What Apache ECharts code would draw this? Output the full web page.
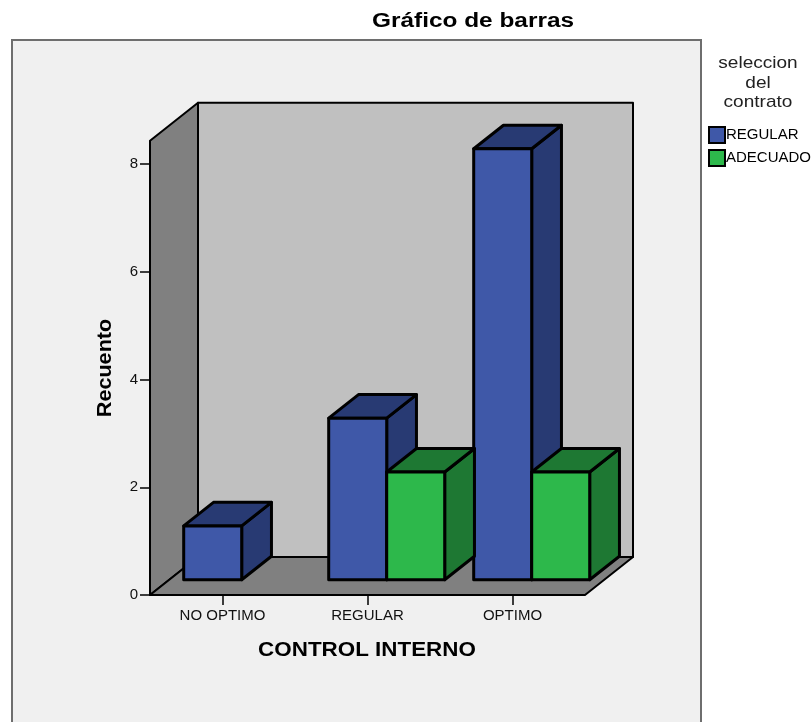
<!DOCTYPE html>
<html>
<head>
<meta charset="utf-8">
<script src="https://cdn.jsdelivr.net/npm/echarts@6/dist/echarts.min.js"></script>
<style>
  html, body { margin: 0; padding: 0; background: #fff; }
  #main { width: 811px; height: 722px; }
</style>
</head>
<body>
<div id="main"></div>
<script>
// datos del grafico
var categories = ['NO OPTIMO', 'REGULAR', 'OPTIMO'];
var regularData = [1, 3, 8];
var adecuadoData = [0, 2, 2];
var seriesNames = ['REGULAR', 'ADECUADO'];
var yTicks = [0, 2, 4, 6, 8];

// colores: cara frontal / caras laterales
var blueFront = '#3f58a8', blueSide = '#283a73';
var greenFront = '#2db84b', greenSide = '#1e7833';

// desplazamiento de profundidad de la caja 3D (px)
var DEPTH = [48, -38];
var WALL_TOP = 8.43;
var font = 'Arial, "Liberation Sans", sans-serif';

function renderWalls(params, api) {
  var cs = params.coordSys;
  var x0 = cs.x, x1 = cs.x + cs.width;
  var yb = api.coord([0, 0])[1];
  var yt = api.coord([0, WALL_TOP])[1];
  var dx = DEPTH[0], dy = DEPTH[1];
  var line = { stroke: '#000', lineWidth: 2, lineJoin: 'round' };
  return {
    type: 'group',
    children: [
      { type: 'polygon', shape: { points: [[x0 + dx, yb + dy], [x1 + dx, yb + dy], [x1 + dx, yt + dy], [x0 + dx, yt + dy]] },
        style: Object.assign({ fill: '#c0c0c0' }, line) },
      { type: 'polygon', shape: { points: [[x0, yb], [x0 + dx, yb + dy], [x0 + dx, yt + dy], [x0, yt]] },
        style: Object.assign({ fill: '#808080' }, line) },
      { type: 'polygon', shape: { points: [[x0, yb], [x1, yb], [x1 + dx, yb + dy], [x0 + dx, yb + dy]] },
        style: Object.assign({ fill: '#808080' }, line) }
    ]
  };
}

// caja 3D: slot 0 = izquierda, slot 1 = derecha dentro de la categoria
function makeBox(slot, front, side) {
  return function (params, api) {
    var cat = api.value(0), val = api.value(1);
    if (!val) return;
    var base = api.coord([cat, 0]);
    var bw = api.size([1, 0])[0];
    var w = bw * 0.4;
    var fx = DEPTH[0] * 0.4, fy = DEPTH[1] * 0.4;
    var dx = DEPTH[0] * 0.62, dy = DEPTH[1] * 0.62;
    var l = base[0] - w + slot * w + fx, r = l + w;
    var b = base[1] + fy;
    var t = api.coord([cat, val])[1] + fy;
    var st = { stroke: '#000', lineWidth: 3, lineJoin: 'round' };
    return {
      type: 'group',
      children: [
        { type: 'polygon', shape: { points: [[r, b], [r + dx, b + dy], [r + dx, t + dy], [r, t]] },
          style: Object.assign({ fill: side }, st) },
        { type: 'polygon', shape: { points: [[l, t], [r, t], [r + dx, t + dy], [l + dx, t + dy]] },
          style: Object.assign({ fill: side }, st) },
        { type: 'polygon', shape: { points: [[l, b], [r, b], [r, t], [l, t]] },
          style: Object.assign({ fill: front }, st) }
      ]
    };
  };
}

function toRows(arr) {
  var rows = [];
  for (var i = 0; i < arr.length; i++) rows.push([i, arr[i]]);
  return rows;
}

var chart = echarts.init(document.getElementById('main'));
chart.setOption({
  animation: false,
  backgroundColor: '#fff',
  textStyle: { fontFamily: font },
  graphic: [
    { type: 'rect', z: -10, shape: { x: 12, y: 40, width: 689, height: 700 },
      style: { fill: '#f0f0f0', stroke: '#6e6e6e', lineWidth: 2 } },
    { type: 'text', x: 473, y: 21, scaleX: 1.22, style: { text: 'Gráfico de barras', fill: '#000', font: 'bold 20px ' + font,
      textAlign: 'center', textVerticalAlign: 'middle' } },
    { type: 'text', x: 758, y: 83, scaleX: 1.12, style: { text: 'seleccion\ndel\ncontrato', fill: '#222', font: '17px ' + font,
      lineHeight: 19.5, textAlign: 'center', textVerticalAlign: 'middle' } },
    { type: 'text', x: 105, y: 368, rotation: Math.PI / 2, scaleX: 1.08, style: { text: 'Recuento', fill: '#000', font: 'bold 20px ' + font,
      textAlign: 'center', textVerticalAlign: 'middle' } },
    { type: 'text', x: 367, y: 650, scaleX: 1.12, style: { text: 'CONTROL INTERNO', fill: '#000', font: 'bold 20px ' + font,
      textAlign: 'center', textVerticalAlign: 'middle' } }
  ],
  legend: {
    data: seriesNames,
    orient: 'vertical',
    left: 703,
    top: 121,
    icon: 'rect',
    itemWidth: 16,
    itemHeight: 16,
    itemGap: 5,
    itemStyle: { borderColor: '#000', borderWidth: 2 },
    textStyle: { fontSize: 15, color: '#000', padding: [0, 0, 0, -4] }
  },
  grid: { left: 150, right: 226, top: 164, bottom: 127 },
  xAxis: {
    type: 'category',
    data: categories,
    axisLine: { show: false },
    axisTick: { show: true, alignWithLabel: true, length: 10, lineStyle: { color: '#000', width: 1.5 } },
    axisLabel: { fontSize: 15, color: '#111', margin: 13 },
    splitLine: { show: false }
  },
  yAxis: {
    type: 'value',
    min: yTicks[0],
    max: yTicks[yTicks.length - 1],
    interval: 2,
    axisLine: { show: false },
    axisTick: { show: true, length: 10, lineStyle: { color: '#000', width: 1.5 } },
    axisLabel: { fontSize: 15, color: '#111', margin: 12 },
    splitLine: { show: false }
  },
  series: [
    { type: 'custom', name: 'paredes', silent: true, renderItem: renderWalls, data: [[0, 0]] },
    { type: 'custom', name: seriesNames[0], itemStyle: { color: blueFront },
      renderItem: makeBox(0, blueFront, blueSide), data: toRows(regularData) },
    { type: 'custom', name: seriesNames[1], itemStyle: { color: greenFront },
      renderItem: makeBox(1, greenFront, greenSide), data: toRows(adecuadoData) }
  ]
});
</script>
</body>
</html>
